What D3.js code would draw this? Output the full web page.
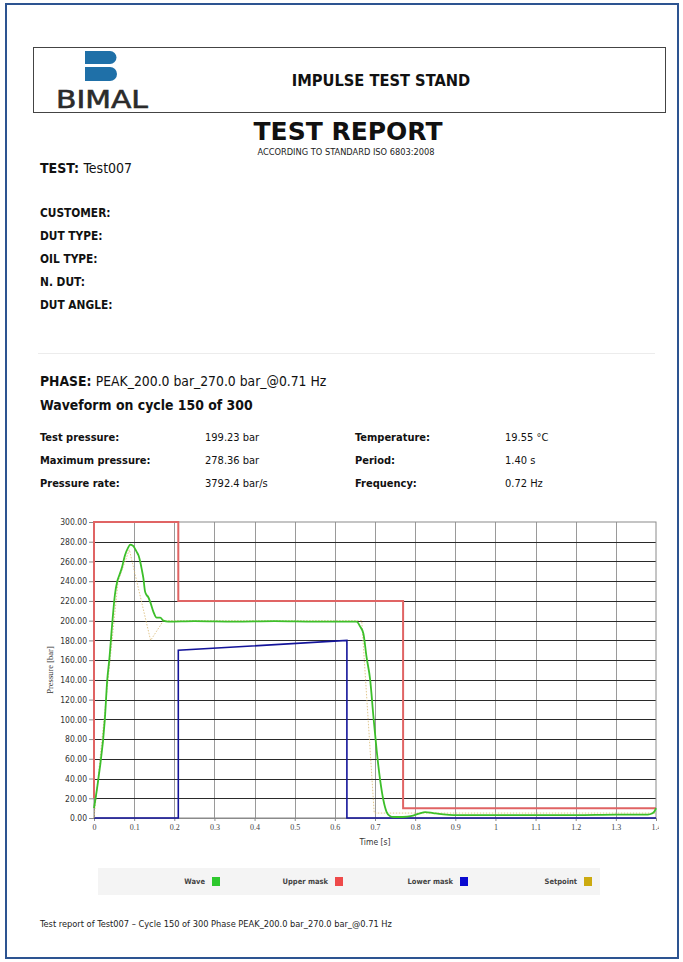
<!DOCTYPE html>
<html>
<head>
<meta charset="utf-8">
<script src="https://cdn.jsdelivr.net/npm/d3@7"></script>
<style>
  html, body { margin: 0; padding: 0; background: #fff; }
  svg { display: block; }
</style>
</head>
<body>
<svg id="page" width="683" height="962"></svg>
<script>
// ---------------- DATA ----------------
const reportTitle = "TEST REPORT";
const standardText = "ACCORDING TO STANDARD ISO 6803:2008";
const standText = "IMPULSE TEST STAND";
const testName = "Test007";
const infoLabels = ["CUSTOMER:", "DUT TYPE:", "OIL TYPE:", "N. DUT:", "DUT ANGLE:"];
const phaseText = "PEAK_200.0 bar_270.0 bar_@0.71 Hz";
const cycleText = "Waveform on cycle 150 of 300";
const tableLeftLabels = ["Test pressure:", "Maximum pressure:", "Pressure rate:"];
const tableLeftValues = ["199.23 bar", "278.36 bar", "3792.4 bar/s"];
const tableRightLabels = ["Temperature:", "Period:", "Frequency:"];
const tableRightValues = ["19.55 °C", "1.40 s", "0.72 Hz"];
const footerText = "Test report of Test007 \u2013 Cycle 150 of 300 Phase PEAK_200.0 bar_270.0 bar_@0.71 Hz";

const yTickValues = [0, 20, 40, 60, 80, 100, 120, 140, 160, 180, 200, 220, 240, 260, 280, 300];
const xTickValues = [0, 0.1, 0.2, 0.3, 0.4, 0.5, 0.6, 0.7, 0.8, 0.9, 1.0, 1.1, 1.2, 1.3, 1.4];
const xTickLabels = ["0", "0.1", "0.2", "0.3", "0.4", "0.5", "0.6", "0.7", "0.8", "0.9", "1", "1.1", "1.2", "1.3", "1.4"];

// Wave (measured pressure)
const waveT = [0, 0.011, 0.027, 0.033, 0.038, 0.046, 0.052, 0.058, 0.063, 0.069, 0.077, 0.085, 0.09, 0.097, 0.102, 0.106, 0.111, 0.115, 0.119, 0.123, 0.127, 0.131, 0.135, 0.14, 0.148, 0.156, 0.165, 0.173, 0.185, 0.25, 0.35, 0.45, 0.55, 0.62, 0.654, 0.663, 0.671, 0.679, 0.688, 0.696, 0.704, 0.713, 0.721, 0.729, 0.737, 0.745, 0.76, 0.78, 0.795, 0.81, 0.825, 0.845, 0.865, 0.895, 1.0, 1.1, 1.2, 1.3, 1.38, 1.39, 1.396, 1.4];
const waveP = [10, 40, 100, 140, 160, 200, 226, 240, 246, 253, 266, 274, 277, 276, 273, 270, 266, 260, 252, 243, 230, 226, 224, 219, 209, 203, 203, 200, 199, 199.5, 199, 199.5, 199, 199, 199, 194, 187, 163, 140, 103, 69, 38, 18, 6, 2, 1, 1, 1.5, 2.5, 4.5, 6, 5, 4, 3, 3, 3, 3, 3.5, 3.5, 4.5, 6.5, 10];

// Upper mask
const upperT = [0, 0, 0.21, 0.21, 0.77, 0.77, 1.4];
const upperP = [20, 300, 300, 220, 220, 10, 10];

// Lower mask
const lowerT = [0, 0.21, 0.21, 0.63, 0.63, 1.4];
const lowerP = [0, 0, 170, 180, 0, 0];

// Setpoint
const setT = [0, 0.06, 0.088, 0.141, 0.173, 0.667, 0.698, 1.4];
const setP = [0, 240, 272, 180, 200, 200, 5, 5];

const legendNames = ["Wave", "Upper mask", "Lower mask", "Setpoint"];
const legendColors = ["#2ec82e", "#ee4a4a", "#0a0ad0", "#ccaa10"];

// ---------------- DRAW ----------------
const svg = d3.select("#page");
const SANS = '"DejaVu Sans Condensed", "DejaVu Sans", sans-serif';

svg.append("rect").attr("width", 683).attr("height", 962).attr("fill", "#fff");
// page frame
svg.append("rect").attr("x", 6).attr("y", 4).attr("width", 672).attr("height", 954)
  .attr("fill", "none").attr("stroke", "#2d5491").attr("stroke-width", 2);

// header box
svg.append("rect").attr("x", 33.5).attr("y", 47.5).attr("width", 632).attr("height", 65)
  .attr("fill", "none").attr("stroke", "#444").attr("stroke-width", 1);

// logo
const logoBlue = "#1f70a8";
svg.append("path").attr("fill", logoBlue)
  .attr("d", "M85,51 H110 A6.5,6.5 0 0 1 110,64 H85 Z");
svg.append("path").attr("fill", logoBlue)
  .attr("d", "M85,67 H110 A7,7 0 0 1 110,81 H85 Z");
svg.append("text").attr("x", 56).attr("y", 108)
  .attr("font-family", '"DejaVu Sans", sans-serif').attr("font-size", 24.5)
  .attr("fill", "#2b2b2b").attr("stroke", "#2b2b2b").attr("stroke-width", 0.6)
  .attr("textLength", 92).attr("lengthAdjust", "spacingAndGlyphs")
  .text("BIMAL");

svg.append("text").attr("x", 381).attr("y", 86).attr("text-anchor", "middle")
  .attr("font-family", SANS).attr("font-weight", "bold").attr("font-size", 16.3)
  .attr("fill", "#111").text(standText);

svg.append("text").attr("x", 348).attr("y", 140).attr("text-anchor", "middle")
  .attr("font-family", '"DejaVu Sans", sans-serif').attr("font-weight", "bold").attr("font-size", 25)
  .attr("fill", "#111").text(reportTitle);
svg.append("text").attr("x", 346).attr("y", 155).attr("text-anchor", "middle")
  .attr("font-family", SANS).attr("font-size", 9.2)
  .attr("fill", "#222").text(standardText);

// test line
const t1 = svg.append("text").attr("x", 40).attr("y", 173).attr("font-family", SANS).attr("font-size", 14).attr("fill", "#111");
t1.append("tspan").attr("font-weight", "bold").text("TEST: ");
t1.append("tspan").text(testName);

infoLabels.forEach((l, i) => {
  svg.append("text").attr("x", 40).attr("y", 217 + i * 23)
    .attr("font-family", SANS).attr("font-weight", "bold").attr("font-size", 11.8)
    .attr("fill", "#111").text(l);
});

svg.append("line").attr("x1", 38).attr("x2", 655).attr("y1", 353.5).attr("y2", 353.5)
  .attr("stroke", "#ececec").attr("stroke-width", 1);

const ph = svg.append("text").attr("x", 40).attr("y", 386).attr("font-family", SANS).attr("font-size", 13.8).attr("fill", "#111");
ph.append("tspan").attr("font-weight", "bold").text("PHASE: ");
ph.append("tspan").text(phaseText);

svg.append("text").attr("x", 40).attr("y", 410).attr("font-family", SANS).attr("font-weight", "bold")
  .attr("font-size", 13.9).attr("fill", "#111").text(cycleText);

[0, 1, 2].forEach(i => {
  const y = 441 + i * 23;
  svg.append("text").attr("x", 40).attr("y", y).attr("font-family", SANS).attr("font-weight", "bold")
    .attr("font-size", 11).attr("fill", "#111").text(tableLeftLabels[i]);
  svg.append("text").attr("x", 205).attr("y", y).attr("font-family", SANS)
    .attr("font-size", 11).attr("fill", "#111").text(tableLeftValues[i]);
  svg.append("text").attr("x", 355).attr("y", y).attr("font-family", SANS).attr("font-weight", "bold")
    .attr("font-size", 11).attr("fill", "#111").text(tableRightLabels[i]);
  svg.append("text").attr("x", 505).attr("y", y).attr("font-family", SANS)
    .attr("font-size", 11).attr("fill", "#111").text(tableRightValues[i]);
});

// ---------------- CHART ----------------
const x = d3.scaleLinear().domain([0, 1.4]).range([94, 656]);
const y = d3.scaleLinear().domain([0, 300]).range([818, 522]);
const chart = svg.append("g");

// vertical grid
chart.append("g").selectAll("line").data(xTickValues.slice(1, -1)).join("line")
  .attr("x1", d => Math.round(x(d)) + 0.5).attr("x2", d => Math.round(x(d)) + 0.5)
  .attr("y1", y(300)).attr("y2", y(0)).attr("stroke", "#9a9a9a").attr("stroke-width", 1);
// horizontal grid
chart.append("g").selectAll("line").data(yTickValues.slice(1, -1)).join("line")
  .attr("x1", x(0)).attr("x2", x(1.4))
  .attr("y1", d => Math.round(y(d)) + 0.5).attr("y2", d => Math.round(y(d)) + 0.5)
  .attr("stroke", "#2a2a2a").attr("stroke-width", 1);
// border
chart.append("rect").attr("x", x(0)).attr("y", y(300)).attr("width", x(1.4) - x(0)).attr("height", y(0) - y(300))
  .attr("fill", "none").attr("stroke", "#8a8a8a").attr("stroke-width", 1);

// axes
const yAxis = d3.axisLeft(y).tickValues(yTickValues).tickFormat(d3.format(".2f")).tickSize(5).tickPadding(2);
const yg = chart.append("g").attr("transform", `translate(${x(0)},0)`).call(yAxis);
yg.select(".domain").attr("stroke", "#8a8a8a");
yg.selectAll(".tick line").attr("stroke", "#8a8a8a");
yg.selectAll(".tick text").attr("font-family", SANS).attr("font-size", 8.5).attr("fill", "#333");

// clip (in the axis group's own coordinates)
const clip = svg.append("clipPath").attr("id", "xclip");
clip.append("rect").attr("x", 60).attr("y", -3).attr("width", 599).attr("height", 30);
const xAxis = d3.axisBottom(x).tickValues(xTickValues).tickFormat((d, i) => xTickLabels[i]).tickSize(3).tickPadding(3);
const xg = chart.append("g").attr("transform", `translate(0,${y(0)})`).attr("clip-path", "url(#xclip)").call(xAxis);
xg.select(".domain").attr("stroke", "#8a8a8a");
xg.selectAll(".tick line").attr("stroke", "#8a8a8a");
xg.selectAll(".tick text").attr("font-family", '"Liberation Serif", "DejaVu Serif", serif').attr("font-size", 8).attr("fill", "#444");

chart.append("text").attr("x", 375).attr("y", 845).attr("text-anchor", "middle")
  .attr("font-family", SANS).attr("font-size", 8.5).attr("fill", "#333").text("Time [s]");
chart.append("text").attr("transform", `translate(53,${(y(0) + y(300)) / 2}) rotate(-90)`).attr("text-anchor", "middle")
  .attr("font-family", '"Liberation Serif", "DejaVu Serif", serif').attr("font-size", 8.5).attr("fill", "#333").text("Pressure [bar]");

const line = d3.line().x(d => x(d[0])).y(d => y(d[1]));
const zipS = (T, P) => T.map((t, i) => [t, P[i]]);
const lineCurve = d3.line().x(d => x(d[0])).y(d => y(d[1])).curve(d3.curveMonotoneX);

chart.append("path").datum(zipS(lowerT, lowerP)).attr("d", line)
  .attr("fill", "none").attr("stroke", "#14149a").attr("stroke-width", 1.6);
chart.append("path").datum(zipS(upperT, upperP)).attr("d", line)
  .attr("fill", "none").attr("stroke", "#e06464").attr("stroke-width", 2);
chart.append("path").datum(zipS(setT, setP)).attr("d", line)
  .attr("fill", "none").attr("stroke", "#d8b870").attr("stroke-width", 0.8).attr("stroke-dasharray", "1.5,1.5");
chart.append("path").datum(zipS(waveT, waveP)).attr("d", lineCurve)
  .attr("fill", "none").attr("stroke", "#3cbf2a").attr("stroke-width", 1.8).attr("stroke-linejoin", "round");

// legend
svg.append("rect").attr("x", 98).attr("y", 868).attr("width", 502).attr("height", 27).attr("fill", "#f4f4f4");
const legendTextEnd = [205, 328, 453, 577];
legendNames.forEach((n, i) => {
  svg.append("text").attr("x", legendTextEnd[i]).attr("y", 884).attr("text-anchor", "end")
    .attr("font-family", SANS).attr("font-weight", "bold").attr("font-size", 7.5).attr("fill", "#444").text(n);
  svg.append("rect").attr("x", legendTextEnd[i] + 7).attr("y", 877).attr("width", 8).attr("height", 9)
    .attr("fill", legendColors[i]);
});

svg.append("text").attr("x", 40).attr("y", 927).attr("font-family", SANS).attr("font-size", 9.2)
  .attr("fill", "#222").text(footerText);
</script>
</body>
</html>
